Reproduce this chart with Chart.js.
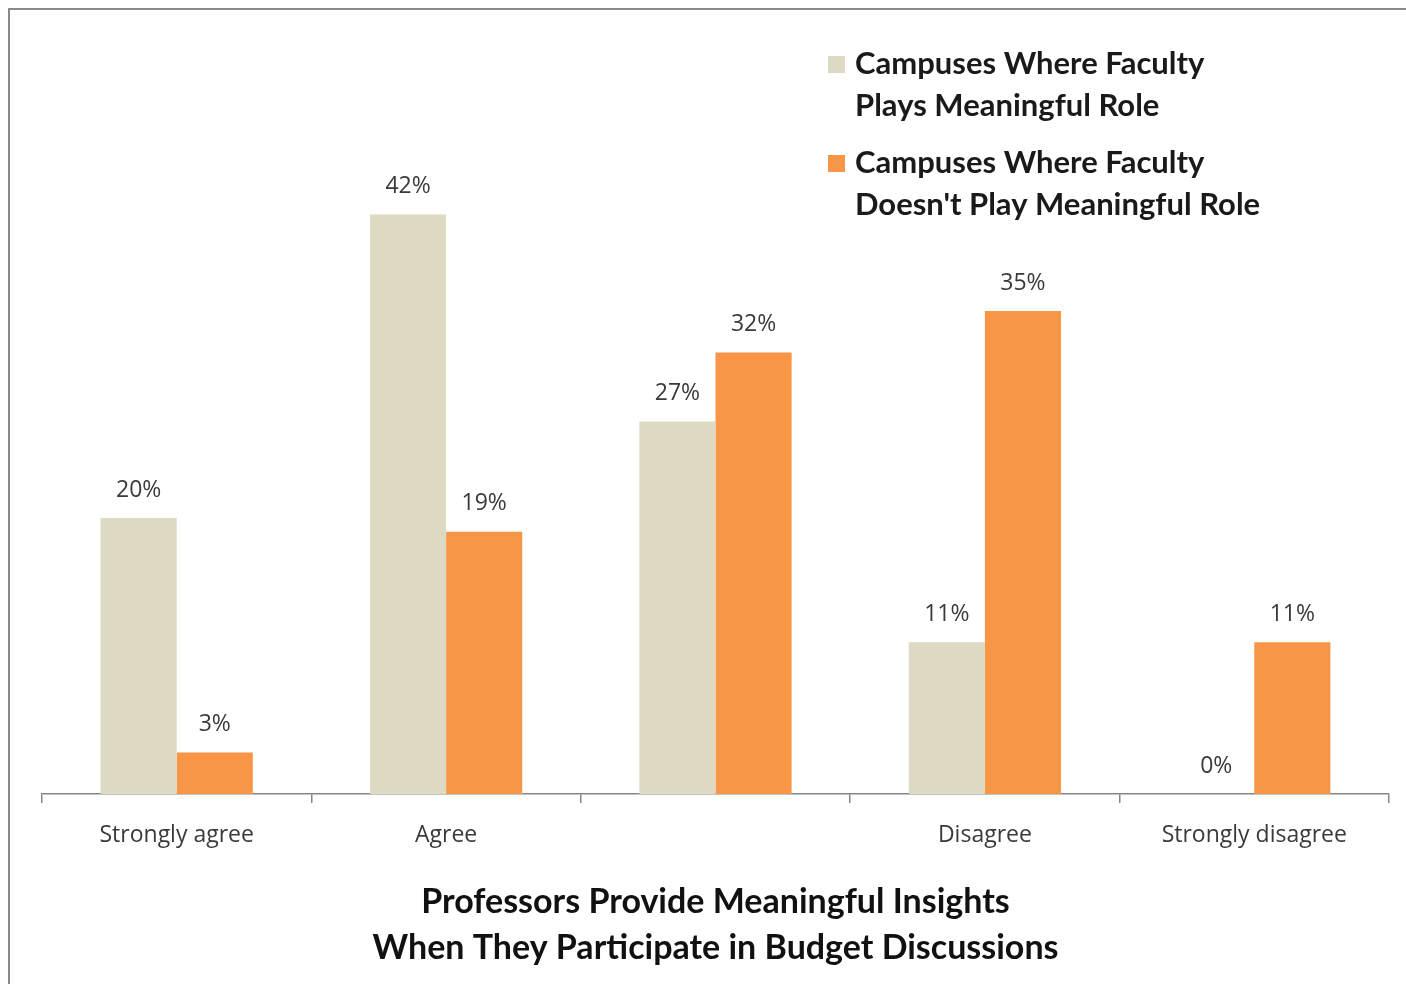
<!DOCTYPE html>
<html>
<head>
<meta charset="utf-8">
<title>Professors Provide Meaningful Insights</title>
<script src="https://cdn.jsdelivr.net/npm/chart.js@4/dist/chart.umd.min.js"></script>
<style>
  html, body { margin: 0; padding: 0; background: #fff; }
  .wrap { position: relative; width: 1406px; height: 984px; overflow: hidden; }
  .frame { position: absolute; left: 8px; top: 8px; width: 1420px; height: 1000px;
           border-top: 2px solid #8a8a8a; border-left: 2px solid #8a8a8a; }
  canvas { position: absolute; left: 0; top: 0; }
</style>
</head>
<body>
<div class="wrap">
  <div class="frame"></div>
  <canvas id="chart" width="1406" height="984"></canvas>
</div>
<script>
// chart data
const categories = ['Strongly agree', 'Agree', '', 'Disagree', 'Strongly disagree'];
const playsRole = [20, 42, 27, 11, 0];
const doesntPlayRole = [3, 19, 32, 35, 11];
const seriesNames = [
  ['Campuses Where Faculty', 'Plays Meaningful Role'],
  ['Campuses Where Faculty', "Doesn't Play Meaningful Role"]
];
const titleLines = ['Professors Provide Meaningful Insights', 'When They Participate in Budget Discussions'];

const BEIGE = '#ddd9c3';
const ORANGE = '#f79646';
const TEXT = '#3a3a3a';
const FONT = '"Open Sans", Lato, sans-serif';
const BOLD_FONT = 'Lato, "Open Sans", sans-serif';

// percent labels above each bar
const valueLabels = {
  id: 'valueLabels',
  afterDatasetsDraw(chart) {
    const ctx = chart.ctx;
    ctx.save();
    ctx.font = '23px ' + FONT;
    ctx.fillStyle = TEXT;
    ctx.textAlign = 'center';
    ctx.textBaseline = 'middle';
    chart.data.datasets.forEach((ds, i) => {
      chart.getDatasetMeta(i).data.forEach((bar, j) => {
        ctx.fillText(ds.data[j] + '%', bar.x, bar.y - 28);
      });
    });
    ctx.restore();
  }
};

// two-line legend in the top right corner
const sideLegend = {
  id: 'sideLegend',
  afterDraw(chart) {
    const ctx = chart.ctx;
    ctx.save();
    ctx.font = 'bold 31px ' + BOLD_FONT;
    ctx.textBaseline = 'middle';
    const x = 828, lineGap = 42;
    const tops = [64, 163];
    chart.data.datasets.forEach((ds, i) => {
      const y = tops[i];
      ctx.fillStyle = ds.backgroundColor;
      ctx.fillRect(x, y - 8, 17, 17);
      ctx.fillStyle = '#1a1a1a';
      seriesNames[i].forEach((line, k) => {
        ctx.fillText(line, x + 27, y + k * lineGap);
      });
    });
    ctx.restore();
  }
};

new Chart(document.getElementById('chart'), {
  type: 'bar',
  data: {
    labels: categories,
    datasets: [
      { label: seriesNames[0].join(' '), data: playsRole, backgroundColor: BEIGE },
      { label: seriesNames[1].join(' '), data: doesntPlayRole, backgroundColor: ORANGE }
    ]
  },
  options: {
    responsive: false,
    animation: false,
    events: [],
    layout: { padding: { top: 104, left: 42, right: 17, bottom: 0 } },
    datasets: { bar: { categoryPercentage: 0.565, barPercentage: 1.0 } },
    scales: {
      x: {
        afterFit(scale) { scale.height = 85; },
        grid: { offset: true, drawOnChartArea: false, drawTicks: true, tickLength: 9, color: '#868686', lineWidth: 1.5 },
        border: { color: '#868686', width: 1.5 },
        ticks: { color: TEXT, font: { family: FONT, size: 23 }, padding: 19, maxRotation: 0, autoSkip: false }
      },
      y: { display: false, min: 0, max: 50 }
    },
    plugins: {
      legend: { display: false },
      tooltip: { enabled: false },
      title: {
        display: true,
        position: 'bottom',
        text: titleLines,
        color: '#111',
        font: { family: BOLD_FONT, size: 34, weight: 'bold', lineHeight: 46 / 34 },
        padding: { top: 0, bottom: 13 }
      }
    }
  },
  plugins: [valueLabels, sideLegend]
});
</script>
</body>
</html>
